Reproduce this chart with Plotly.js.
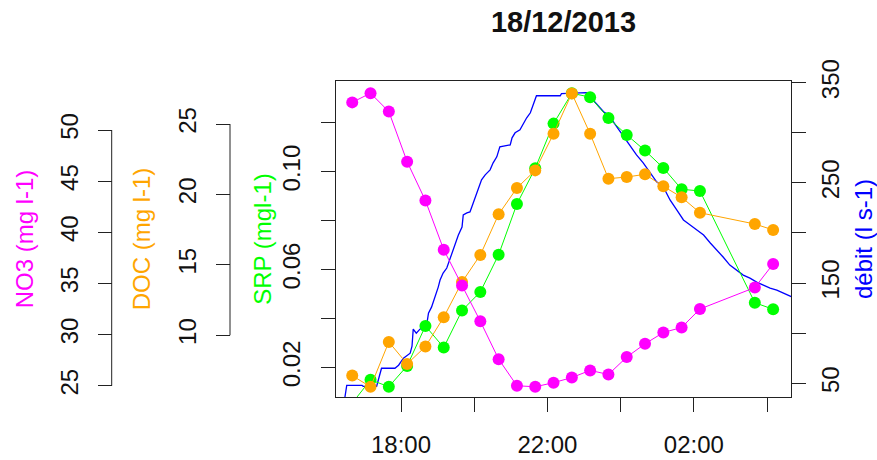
<!DOCTYPE html>
<html><head><meta charset="utf-8">
<script src="https://cdn.plot.ly/plotly-3.0.1.min.js"></script>
<style>body{margin:0;background:#fff}#chart{width:877px;height:460px}</style>
</head><body><div id="chart"></div>
<script>
// Sample times (every 30 min, with gap)
const sampleTimes = ['2013-12-18 16:40','2013-12-18 17:10','2013-12-18 17:40','2013-12-18 18:10','2013-12-18 18:40',
 '2013-12-18 19:10','2013-12-18 19:40','2013-12-18 20:10','2013-12-18 20:40','2013-12-18 21:10','2013-12-18 21:40',
 '2013-12-18 22:10','2013-12-18 22:40','2013-12-18 23:10','2013-12-18 23:40','2013-12-19 00:10','2013-12-19 00:40',
 '2013-12-19 01:10','2013-12-19 01:40','2013-12-19 02:10','2013-12-19 03:40','2013-12-19 04:10'];
const no3 = [52.7,53.6,51.8,46.9,43.1,38.3,34.8,31.3,27.6,25.0,24.9,25.3,25.8,26.5,26.1,27.8,29.1,30.2,30.7,32.5,34.6,36.9];
const doc = [7.13,6.33,9.52,7.96,9.19,11.28,13.78,15.70,18.59,20.46,21.71,24.31,27.18,24.31,21.12,21.24,21.43,20.58,19.80,18.70,17.90,17.48];
const srp = [0.0055,0.0150,0.0122,0.0207,0.0370,0.0282,0.0433,0.0509,0.0661,0.0868,0.1014,0.1196,0.1320,0.1304,0.1219,0.1150,0.1086,0.1015,0.0928,0.0921,0.0465,0.0438];

// Discharge record
const qTimes = ['2013-12-18 16:28','2013-12-18 16:31','2013-12-18 16:56','2013-12-18 16:58','2013-12-18 17:20','2013-12-18 17:26',
 '2013-12-18 17:28','2013-12-18 17:50','2013-12-18 17:56','2013-12-18 18:04','2013-12-18 18:15','2013-12-18 18:18','2013-12-18 18:20',
 '2013-12-18 18:25','2013-12-18 18:31','2013-12-18 18:42','2013-12-18 18:45','2013-12-18 18:50','2013-12-18 18:56','2013-12-18 19:01',
 '2013-12-18 19:04','2013-12-18 19:09','2013-12-18 19:15','2013-12-18 19:18','2013-12-18 19:23','2013-12-18 19:29','2013-12-18 19:34',
 '2013-12-18 19:40','2013-12-18 19:42','2013-12-18 19:48','2013-12-18 19:53','2013-12-18 19:56','2013-12-18 19:59','2013-12-18 20:04',
 '2013-12-18 20:07','2013-12-18 20:12','2013-12-18 20:18','2013-12-18 20:26','2013-12-18 20:31','2013-12-18 20:37','2013-12-18 20:42',
 '2013-12-18 20:59','2013-12-18 21:02','2013-12-18 21:07','2013-12-18 21:15','2013-12-18 21:21','2013-12-18 21:26','2013-12-18 21:32',
 '2013-12-18 21:37','2013-12-18 21:42','2013-12-18 22:21','2013-12-18 22:23','2013-12-18 23:04','2013-12-18 23:10','2013-12-18 23:21',
 '2013-12-18 23:32','2013-12-18 23:40','2013-12-18 23:48','2013-12-18 23:54','2013-12-18 23:59','2013-12-19 00:05','2013-12-19 00:15',
 '2013-12-19 00:26','2013-12-19 00:37','2013-12-19 00:48','2013-12-19 00:59','2013-12-19 01:10','2013-12-19 01:21','2013-12-19 01:32',
 '2013-12-19 01:43','2013-12-19 01:54','2013-12-19 02:05','2013-12-19 02:16','2013-12-19 02:27','2013-12-19 02:38','2013-12-19 02:48',
 '2013-12-19 02:59','2013-12-19 03:10','2013-12-19 03:21','2013-12-19 03:32','2013-12-19 03:43','2013-12-19 03:54','2013-12-19 04:05',
 '2013-12-19 04:16','2013-12-19 04:27','2013-12-19 04:40','2013-12-19 04:45'];
const debit = [36,48,48,47,47,60,65,65,68,75,80,87,104,100,104,108,120,126,136,146,153,160,165,170,178,190,198,206,218,220,221,226,231,
 240,246,253,258,263,270,276,286,288,295,300,303,310,315,320,329,337,337,339,340,336,329,321,318,311,306,301,296,288,278,270,260,251,
 246,233,223,213,208,203,198,190,183,176,168,163,158,155,151,148,145,143,140,137,135];

// Tick labels
const xTickVals = ['2013-12-18 18:00','2013-12-18 20:00','2013-12-18 22:00','2013-12-19 00:00','2013-12-19 02:00','2013-12-19 04:00'];
const xTickText = ['18:00','','22:00','','02:00',''];
const qTickVals = [50,100,150,200,250,300,350];
const qTickText = ['50','','150','','250','','350'];
const srpTickVals = [0.02,0.04,0.06,0.08,0.10,0.12];
const srpTickText = ['0.02','','0.06','','0.10',''];
const docTickVals = [10,15,20,25];
const no3TickVals = [25,30,35,40,45,50];

const W = 877, H = 460;
const FONT = 'Liberation Sans, Arial, sans-serif';
const AX = '#222';
const plotL = 336, plotR = 791, plotT = 81, plotB = 397;
const docPos = 230/W, no3Pos = 111.7/W;

const traces = [
 {x:qTimes, y:debit, type:'scatter', mode:'lines', line:{color:'#0000FF', width:1.3}, xaxis:'x', yaxis:'y', name:'débit'},
 {x:sampleTimes, y:srp, type:'scatter', mode:'lines+markers', line:{color:'#00FF00', width:1}, marker:{color:'#00FF00', size:12}, xaxis:'x', yaxis:'y2', name:'SRP'},
 {x:sampleTimes, y:doc, type:'scatter', mode:'lines+markers', line:{color:'#FFA500', width:1}, marker:{color:'#FFA500', size:12}, xaxis:'x', yaxis:'y3', name:'DOC'},
 {x:sampleTimes, y:no3, type:'scatter', mode:'lines+markers', line:{color:'#FF00FF', width:1}, marker:{color:'#FF00FF', size:12}, xaxis:'x', yaxis:'y4', name:'NO3'}
];

const tickCommon = {ticks:'outside', ticklen:14, tickwidth:1, tickcolor:AX, showgrid:false, zeroline:false,
  tickfont:{family:FONT, size:24, color:'#111'}, tickmode:'array'};

const layout = {
 width:W, height:H, margin:{l:0,r:0,t:0,b:0}, paper_bgcolor:'#fff', plot_bgcolor:'#fff', showlegend:false,
 font:{family:FONT, size:24, color:'#111'},
 title:{text:'18/12/2013', font:{family:FONT, size:29, weight:'bold', color:'#111'}, xref:'paper', x:(plotL+plotR)/2/W, xanchor:'center', yref:'container', y:1-22/H, yanchor:'middle'},
 xaxis:Object.assign({}, tickCommon, {type:'date', domain:[plotL/W, plotR/W], range:['2013-12-18 16:13:24','2013-12-19 04:39:18'],
   tickvals:xTickVals, ticktext:xTickText, showline:true, mirror:true, linecolor:AX, linewidth:1, ticklabelstandoff:12}),
 yaxis:Object.assign({}, tickCommon, {domain:[1-plotB/H, 1-plotT/H], range:[36.3,351.7], side:'right', anchor:'x',
   tickvals:qTickVals, ticktext:qTickText, tickangle:-90, showline:true, mirror:true, linecolor:AX, linewidth:1, ticklabelstandoff:4,
   title:{text:'débit (l s-1)', font:{family:FONT, size:24, color:'#0000FF'}, standoff:12}}),
 yaxis2:Object.assign({}, tickCommon, {overlaying:'y', side:'left', anchor:'x', range:[0.008,0.137],
   tickvals:srpTickVals, ticktext:srpTickText, tickangle:-90, showline:false, ticklabelstandoff:11,
   title:{text:'SRP (mgl-1)', font:{family:FONT, size:24, color:'#00FF00'}, standoff:0}}),
 yaxis3:Object.assign({}, tickCommon, {overlaying:'y', side:'left', anchor:'free', position:docPos, range:[5.61,28.06],
   tickvals:docTickVals, ticktext:docTickVals.map(String), tickangle:-90, showline:false, ticklabelstandoff:10,
   title:{text:'DOC (mg l-1)', font:{family:FONT, size:24, color:'#FFA500'}, standoff:16}}),
 yaxis4:Object.assign({}, tickCommon, {overlaying:'y', side:'left', anchor:'free', position:no3Pos, range:[23.9,54.79],
   tickvals:no3TickVals, ticktext:no3TickVals.map(String), tickangle:-90, showline:false, ticklabelstandoff:10,
   title:{text:'NO3 (mg l-1)', font:{family:FONT, size:24, color:'#FF00FF'}, standoff:14}}),
 shapes:[
  {type:'line', xref:'paper', yref:'y3', x0:docPos, x1:docPos, y0:docTickVals[0], y1:docTickVals[docTickVals.length-1], line:{color:AX, width:1}},
  {type:'line', xref:'paper', yref:'y4', x0:no3Pos, x1:no3Pos, y0:no3TickVals[0], y1:no3TickVals[no3TickVals.length-1], line:{color:AX, width:1}}
 ]
};
Plotly.newPlot('chart', traces, layout, {displayModeBar:false, staticPlot:true});
</script></body></html>
